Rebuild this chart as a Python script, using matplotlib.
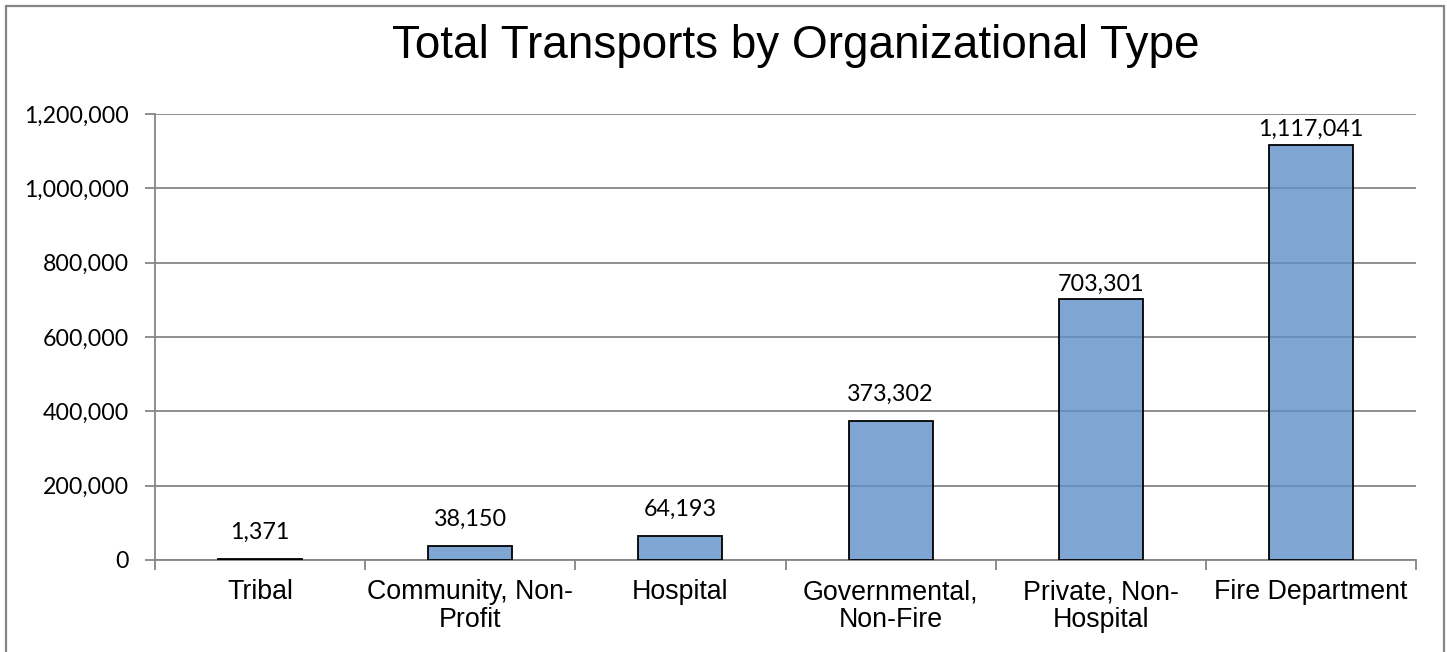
import numpy as np
import matplotlib.pyplot as plt
from matplotlib.patches import Rectangle

# chart data
categories = ['Tribal', 'Community, Non-\nProfit', 'Hospital',
              'Governmental,\nNon-Fire', 'Private, Non-\nHospital', 'Fire Department']
transports = [1371, 38150, 64193, 373302, 703301, 1117041]
y_ticks = [0, 200000, 400000, 600000, 800000, 1000000, 1200000]

# gap (px) between bar top and its value label, as placed in the original
label_gaps = [19, 19, 19, 19, 7, 8]

grid_col = '#868686'
bar_face = (0x5f/255, 0x90/255, 0xc7/255, 0.8)
num_font = 'Lato'
txt_font = 'Liberation Sans'

fig = plt.figure(figsize=(14.47, 6.52), dpi=100)
ax = fig.add_axes([155/1447, 1-560/652, (1416-155)/1447, (560-114)/652])

x = np.arange(len(categories))
ax.bar(x, transports, width=0.4, color=bar_face, edgecolor='black', linewidth=1.3, zorder=3)

# value labels above the bars
for xi, v, g in zip(x, transports, label_gaps):
    ax.annotate(f'{v:,}', (xi, v), xytext=(0, g*0.72 - 2), textcoords='offset points',
                ha='center', va='bottom', fontsize=16.8, family=num_font)

ax.set_xlim(-0.5, len(categories)-0.5)
ax.set_ylim(0, 1200000)
ax.set_yticks(y_ticks)
ax.set_yticklabels([f'{t:,}' for t in y_ticks], family=num_font, fontsize=16.7)
ax.yaxis.grid(True, color=grid_col, linewidth=1.3, zorder=0)
ax.set_axisbelow(True)

# category labels between boundary ticks
ax.set_xticks(x)
ax.set_xticklabels(categories, family=txt_font, fontsize=19.3, linespacing=1.1)
ax.tick_params(axis='x', length=0, pad=14)
ax.set_xticks(np.arange(len(categories)+1) - 0.5, minor=True)
ax.tick_params(axis='x', which='minor', length=7, color=grid_col, width=1.3)
ax.tick_params(axis='y', length=7, color=grid_col, width=1.3, pad=12)

for s in ['top', 'right']:
    ax.spines[s].set_visible(False)
for s in ['left', 'bottom']:
    ax.spines[s].set_color(grid_col)
    ax.spines[s].set_linewidth(1.3)

fig.text(796/1447, 1-46/652, 'Total Transports by Organizational Type',
         ha='center', va='center', fontsize=33, family=txt_font)

# chart border (bottom edge falls outside the image)
fig.patches.append(Rectangle((5.5/1447, -10/652), 1438/1447, 656/652, transform=fig.transFigure,
                             fill=False, edgecolor=grid_col, linewidth=1.6))

fig.savefig('out.png', dpi=100)
